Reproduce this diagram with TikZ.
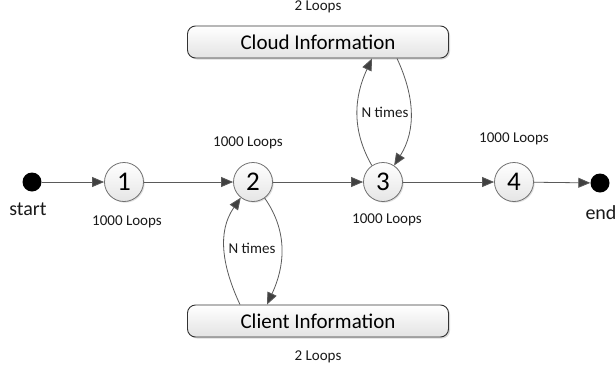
\documentclass[tikz,border=0pt]{standalone}
\usepackage{fontspec}
\setmainfont{Carlito}
\usetikzlibrary{arrows.meta,shadows}
\definecolor{edgegray}{HTML}{5A5A5A}
\definecolor{ringgray}{HTML}{707070}
\definecolor{tipgray}{HTML}{404040}
\tikzset{
  state/.style={circle, draw=ringgray, line width=0.8pt, minimum size=39pt, inner sep=0pt,
    top color=white, bottom color=gray!20,
    drop shadow={shadow xshift=1.2pt, shadow yshift=-1.2pt, opacity=0.25},
    font=\fontsize{27}{30}\selectfont},
  dot/.style={circle, fill=black, minimum size=19pt, inner sep=0pt},
  infobox/.style={rectangle, rounded corners=8pt, draw=black!80, line width=0.9pt,
    minimum width=261pt, minimum height=32pt, inner sep=0pt,
    top color=white, bottom color=gray!22,
    drop shadow={shadow xshift=1.5pt, shadow yshift=-1.5pt, opacity=0.3},
    font=\fontsize{21}{25}\selectfont},
  lbl/.style={font=\fontsize{15}{18}\selectfont, text=black!90, inner sep=0pt},
  biglbl/.style={font=\fontsize{20}{24}\selectfont, text=black!90, inner sep=0pt},
  flow/.style={draw=edgegray, line width=0.8pt,
    -{Triangle[length=12pt,width=10pt,fill=tipgray]}},
}
\begin{document}
\begin{tikzpicture}[x=1pt,y=-1pt]
\useasboundingbox (0,0) rectangle (616,370);

% main chain
\node[dot] (start) at (32,182) {};
\node[state] (s1) at (124,182) {1};
\node[state] (s2) at (253,182) {2};
\node[state] (s3) at (383,182) {3};
\node[state] (s4) at (514,182) {4};
\node[dot] (end) at (600,183) {};

\node[biglbl] (startlbl) at (28,209) {start};
\node[biglbl] (endlbl) at (601,213) {end};

% information sources
\node[infobox] (cloud) at (318,42) {Cloud Information};
\node[infobox] (client) at (318,321) {Client Information};

% loop counts
\node[lbl] (l1) at (127,222) {1000 Loops};
\node[lbl] (l2) at (248,143) {1000 Loops};
\node[lbl] (l3) at (387,220) {1000 Loops};
\node[lbl] (l4) at (514,139) {1000 Loops};
\node[lbl] (lcloud) at (318,7) {2 Loops};
\node[lbl] (lclient) at (318,357) {2 Loops};
\node[lbl] (ncloud) at (385,112) {N times};
\node[lbl] (nclient) at (252,248) {N times};

% transitions
\draw[flow] (start) -- (s1);
\draw[flow] (s1) -- (s2);
\draw[flow] (s2) -- (s3);
\draw[flow] (s3) -- (s4);
\draw[flow] (s4) -- (end);

% client round trips
\draw[flow] ([xshift=-78pt]client.north) to[out=115,in=235] (s2.232);
\draw[flow] (s2.306) to[out=-55,in=65] ([xshift=-51pt]client.north);

% cloud round trips
\draw[flow] (s3.124) to[out=120,in=-115] ([xshift=54pt]cloud.south);
\draw[flow] ([xshift=79pt]cloud.south) to[out=-65,in=58] (s3.56);
\end{tikzpicture}
\end{document}
